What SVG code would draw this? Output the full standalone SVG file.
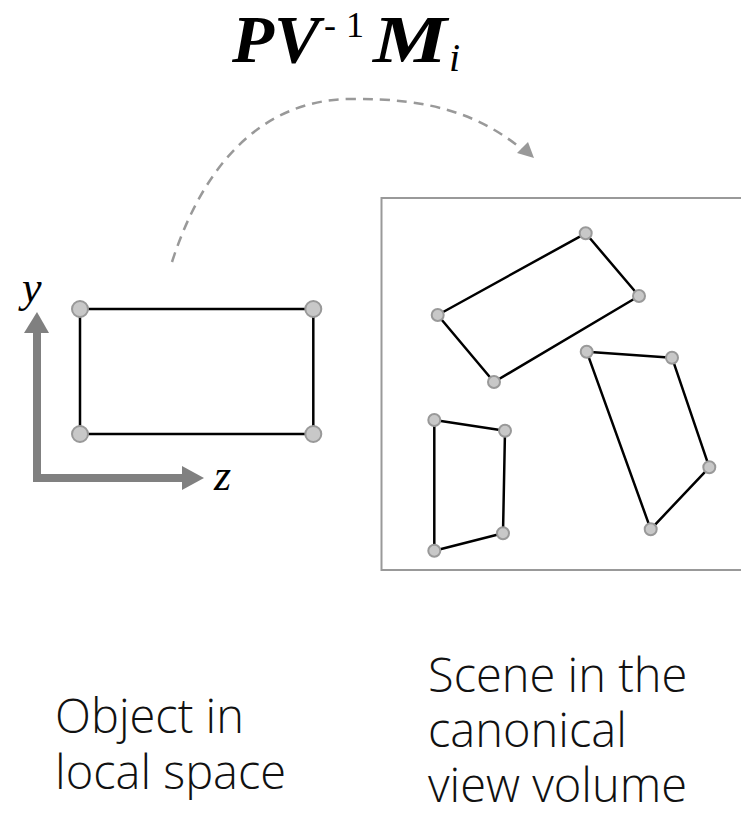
<svg xmlns="http://www.w3.org/2000/svg" width="741" height="815" viewBox="0 0 741 815">
<defs>
<style>
.edge{stroke:#000;stroke-width:2.5;fill:none;stroke-linejoin:round}
.v{fill:#c8c8c8;stroke:#999;stroke-width:2}
.lbl{font-family:"Open Sans","Liberation Sans",sans-serif;font-weight:300;font-size:47px;fill:#111}
.math{font-family:"Liberation Serif","DejaVu Serif",serif;fill:#000}
.bi{font-weight:bold;font-style:italic}
</style>
</defs>
<rect width="741" height="815" fill="#fff"/>

<g id="title">
<text class="math bi" x="232" y="62" font-size="68" textLength="88" lengthAdjust="spacingAndGlyphs">PV</text>
<text class="math" x="324" y="37" font-size="36" textLength="40" lengthAdjust="spacing">-1</text>
<text class="math bi" x="373" y="62" font-size="68" textLength="74" lengthAdjust="spacingAndGlyphs">M</text>
<text class="math" x="449" y="71" font-size="40" font-style="italic">i</text>
</g>

<g id="connectors">
<path d="M172,262 C205,160 265,100 350,99 C430,98 478,114 522,149" fill="none" stroke="#999" stroke-width="2.5" stroke-dasharray="10,7"/>
<polygon points="517,153 528,142 534,158" fill="#999"/>
</g>

<g id="axes">
<line x1="37" y1="482" x2="37" y2="332" stroke="#808080" stroke-width="8"/>
<polygon points="24,333 49,333 37,312" fill="#808080"/>
<line x1="33" y1="478" x2="184" y2="478" stroke="#808080" stroke-width="8"/>
<polygon points="182,466 182,490 204,478" fill="#808080"/>
<text class="math" x="22" y="302" font-size="44" font-style="italic">y</text>
<text class="math" x="214" y="490" font-size="44" font-style="italic">z</text>
</g>

<g id="local-object">
<rect class="edge" x="80" y="309" width="233.3" height="125"/>
<circle class="v" cx="80" cy="309" r="8"/>
<circle class="v" cx="313.3" cy="309" r="8"/>
<circle class="v" cx="80" cy="434" r="8"/>
<circle class="v" cx="313.3" cy="434" r="8"/>
</g>

<g id="view-volume">
<rect x="381.5" y="198" width="362" height="372" fill="none" stroke="#999" stroke-width="2"/>
</g>

<g id="quad1">
<polygon class="edge" points="585.7,233.3 639,296 494,382 437.7,315"/>
<circle class="v" cx="585.7" cy="233.3" r="6"/>
<circle class="v" cx="639" cy="296" r="6"/>
<circle class="v" cx="494" cy="382" r="6"/>
<circle class="v" cx="437.7" cy="315" r="6"/>
</g>

<g id="quad2">
<polygon class="edge" points="586.7,351.7 672,357.7 709.3,467.3 650.7,529.3"/>
<circle class="v" cx="586.7" cy="351.7" r="6"/>
<circle class="v" cx="672" cy="357.7" r="6"/>
<circle class="v" cx="709.3" cy="467.3" r="6"/>
<circle class="v" cx="650.7" cy="529.3" r="6"/>
</g>

<g id="quad3">
<polygon class="edge" points="434.3,420 505,430.7 503,533.3 434.3,550.7"/>
<circle class="v" cx="434.3" cy="420" r="6"/>
<circle class="v" cx="505" cy="430.7" r="6"/>
<circle class="v" cx="503" cy="533.3" r="6"/>
<circle class="v" cx="434.3" cy="550.7" r="6"/>
</g>

<g id="label-local">
<text class="lbl" x="55" y="733">Object in</text>
<text class="lbl" x="55" y="789">local space</text>
</g>

<g id="label-scene">
<text class="lbl" x="428" y="692">Scene in the</text>
<text class="lbl" x="428" y="747">canonical</text>
<text class="lbl" x="428" y="802">view volume</text>
</g>
</svg>
